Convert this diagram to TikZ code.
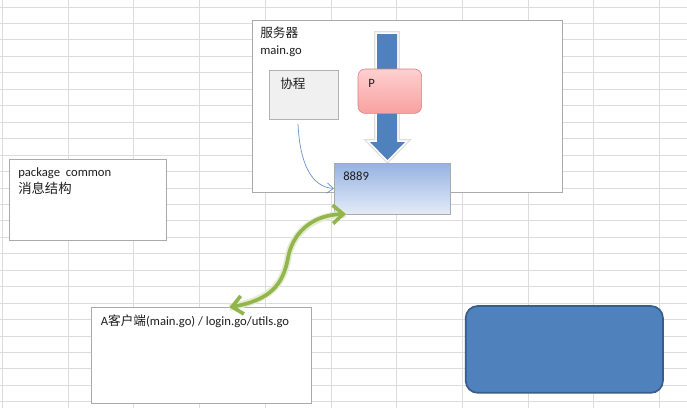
\documentclass[tikz,border=0pt]{standalone}
\usepackage{fontspec}
\setmainfont{Carlito}
\newfontfamily\cjk{Noto Sans CJK SC}
\usetikzlibrary{arrows.meta,shapes}
\definecolor{gridgray}{RGB}{218,220,222}
\definecolor{boxgray}{RGB}{170,170,170}
\definecolor{textdark}{RGB}{30,30,30}
\definecolor{officeblue}{RGB}{79,129,189}
\definecolor{officeblueline}{RGB}{56,93,138}
\definecolor{porttop}{RGB}{150,178,226}
\definecolor{portbottom}{RGB}{228,235,248}
\definecolor{ptop}{RGB}{255,208,208}
\definecolor{pbottom}{RGB}{249,160,160}
\definecolor{pline}{RGB}{214,128,126}
\definecolor{cellfill}{RGB}{240,240,240}
\definecolor{linkgreen}{RGB}{146,181,76}
\definecolor{thinblue}{RGB}{110,146,200}

\newcommand{\cellfont}{\fontsize{9pt}{11pt}\selectfont}

\tikzset{
  sheetbox/.style={draw=boxgray, fill=white, inner sep=0pt, outer sep=0pt, anchor=north west},
  lbl/.style={anchor=base west, inner sep=0pt, text=textdark, font=\cellfont},
}

\begin{document}
\begin{tikzpicture}[x=0.025cm, y=-0.025cm]
	\useasboundingbox (0,0) rectangle (687,408);
	\fill[white] (0,0) rectangle (687,408);
	
	% Sheet grid
	\foreach \gx in {0,...,10}
		\draw[gridgray, line width=0.7pt] (2.5+65.7*\gx,0) -- (2.5+65.7*\gx,408);
	\foreach \gy in {0,...,24}
		\draw[gridgray, line width=0.6pt] (0,7+16.45*\gy) -- (687,7+16.45*\gy);
	
	% Server
	\node[sheetbox, minimum width=7.75cm, minimum height=4.29cm] (server) at (252,20.5) {};
	\node[lbl] (servername) at (260,37.5) {\cjk 服务器};
	\node[lbl] (servermain) at (260,54) {main.go};
	
	% Goroutine
	\node[sheetbox, fill=cellfill, draw=boxgray!90, minimum width=1.71cm, minimum height=1.215cm] (goroutine) at (269.5,70.7) {};
	\node[lbl] (goroutinename) at (280,88.5) {\cjk 协程};
	
	% Big down arrow
	\draw[gray!25, line width=4pt, line join=miter]
		(377,34) -- (397,34) -- (397,142) -- (405,142) -- (387.5,160) -- (370,142) -- (377,142) -- cycle;
	\draw[white, line width=2.2pt, fill=officeblue, line join=miter]
		(377,34) -- (397,34) -- (397,142) -- (405,142) -- (387.5,160) -- (370,142) -- (377,142) -- cycle;
	\fill[officeblue] (377,34) -- (397,34) -- (397,142) -- (405,142) -- (387.5,160) -- (370,142) -- (377,142) -- cycle;
	
	% P
	\node[sheetbox, draw=pline, top color=ptop, bottom color=pbottom, rounded corners=0.18cm, minimum width=1.59cm, minimum height=1.11cm] (pbox) at (358,69) {};
	\node[lbl] (pname) at (368,87) {P};
	
	% Port
	\node[sheetbox, top color=porttop, bottom color=portbottom, draw=boxgray, minimum width=2.9cm, minimum height=1.275cm] (port) at (334,163) {};
	\node[lbl] (portname) at (343,180) {8889};
	
	\coordinate (gostart) at (298,124);
	\draw[thinblue, line width=0.5pt, -{Straight Barb[length=1.6mm,width=2.6mm]}]
		(gostart) .. controls (300,165) and (312,187) .. (port.west);
	
	% package common
	\node[sheetbox, minimum width=3.92cm, minimum height=2.035cm] (common) at (9.3,159.3) {};
	\node[lbl] (commonname) at (18,176.5) {package\ \ common};
	\node[lbl, font=\fontsize{9.5pt}{11pt}\selectfont] (commonmsg) at (18,193.5) {\cjk 消息结构};
	
	% Client
	\node[sheetbox, minimum width=5.48cm, minimum height=2.39cm] (client) at (91.7,307.3) {};
	\node[lbl] (clientname) at (100.5,325) {A{\cjk 客户端}(main.go) / login.go/utils.go};
	
	% Client <-> server link
	\draw[linkgreen!25, line width=5pt]
		([xshift=0.7cm]client.north) .. controls (270,300) and (283,285) .. (288,258)
		.. controls (292,235) and (310,215) .. ([xshift=0.3cm]port.south west);
	\draw[linkgreen, line width=2.6pt, line cap=round,
		{Straight Barb[length=2.6mm,width=4.6mm]}-{Straight Barb[length=2.6mm,width=4.6mm]}]
		([xshift=0.7cm]client.north) .. controls (270,300) and (283,285) .. (288,258)
		.. controls (292,235) and (310,215) .. ([xshift=0.3cm]port.south west);
	
	% Blue shape
	\node[sheetbox, fill=officeblue, draw=officeblueline, line width=1.2pt, rounded corners=0.3cm, minimum width=4.93cm, minimum height=2.17cm] (shape) at (465.7,306) {};
\end{tikzpicture}
\end{document}
